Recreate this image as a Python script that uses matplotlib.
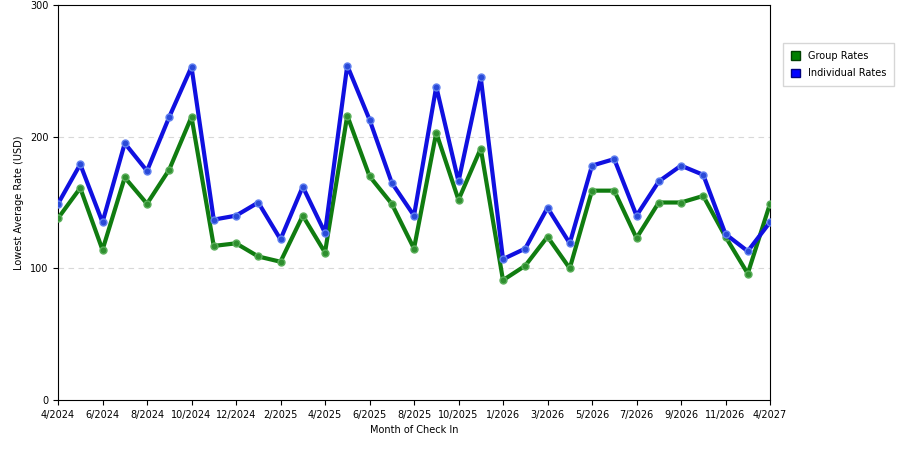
import matplotlib
matplotlib.use("Agg")
import matplotlib.pyplot as plt
from matplotlib.patches import Patch

tick_labels = ["4/2024","6/2024","8/2024","10/2024","12/2024","2/2025","4/2025","6/2025",
               "8/2025","10/2025","1/2026","3/2026","5/2026","7/2026","9/2026","11/2026","4/2027"]
individual = [149,179,135,195,174,215,253,137,140,150,122,162,127,254,213,165,140,238,166,245,
              107,115,146,119,178,183,140,166,178,171,126,113,135]
group = [138,161,114,169,149,175,215,117,119,109,105,140,112,216,170,149,115,203,152,191,
         91,102,124,100,159,159,123,150,150,155,124,96,149]

fig = plt.figure(figsize=(9, 4.5), dpi=100)
ax = fig.add_axes([58/900, 50/450, 712/900, 395/450])
x = list(range(len(group)))
ax.plot(x, group, color="#107c10", lw=3, marker="o", ms=5, mfc="#2f8f2f", mec="#5aaf5a", zorder=3)
ax.plot(x, individual, color="#1010e0", lw=3, marker="o", ms=5, mfc="#2a4ad8", mec="#6080f0", zorder=3)
ax.set_xlim(0, len(group)-1)
ax.set_ylim(0, 300)
ax.set_xticks(range(0, len(group), 2))
ax.set_xticklabels(tick_labels, fontsize=7)
ax.set_yticks([0, 100, 200, 300])
ax.tick_params(axis="y", labelsize=7)
for v in (100, 200):
    ax.axhline(v, color="#d8d8d8", ls=(0, (5, 4)), lw=0.8, zorder=1)
ax.set_xlabel("Month of Check In", fontsize=7)
ax.set_ylabel("Lowest Average Rate (USD)", fontsize=7)
handles = [Patch(facecolor="#008000", edgecolor="#004000", label="Group Rates"),
           Patch(facecolor="#0000ff", edgecolor="#000080", label="Individual Rates")]
fig.legend(handles=handles, loc="upper left", bbox_to_anchor=(778/900, 1-38/450),
           fontsize=7, frameon=True, fancybox=False, edgecolor="#cccccc",
           handlelength=1.0, handleheight=1.0, borderpad=0.8, labelspacing=0.8)
fig.savefig("out.png", dpi=100)
